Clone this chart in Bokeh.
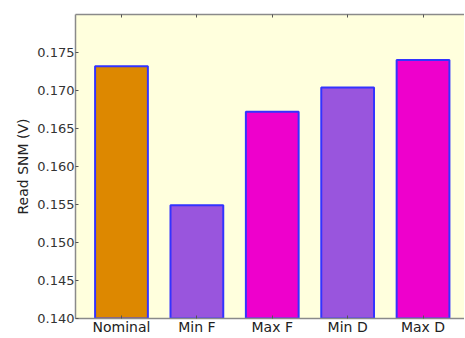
from bokeh.plotting import figure
from bokeh.models import ColumnDataSource, LinearAxis, FixedTicker, Range1d
from bokeh.embed import file_html
from bokeh.resources import INLINE

categories = ["Nominal", "Min F", "Max F", "Min D", "Max D"]
snm_values = [0.1732, 0.1549, 0.1672, 0.1704, 0.1740]
bar_colors = ["#DD8800", "#9955DD", "#EE00CC", "#9955DD", "#EE00CC"]
y_ticks = [0.140, 0.145, 0.150, 0.155, 0.160, 0.165, 0.170, 0.175]

xs = list(range(len(categories)))
src = ColumnDataSource(dict(x=xs, top=snm_values, color=bar_colors))

p = figure(width=464, height=337, output_backend="svg", toolbar_location=None,
           x_range=Range1d(-0.61, 4.55), y_range=Range1d(0.140, 0.180),
           min_border_left=75, min_border_right=0, min_border_top=14, min_border_bottom=14)

p.background_fill_color = "#FFFFDD"
p.border_fill_color = "white"
p.outline_line_color = None
p.grid.visible = False

p.vbar(x="x", top="top", bottom=0.140, width=0.70, source=src,
       fill_color="color", line_color="#3333FF", line_width=2)

AX = "#8a8a8a"
xa = p.xaxis[0]
xa.ticker = FixedTicker(ticks=xs)
xa.major_label_overrides = {i: c for i, c in enumerate(categories)}
xa.major_label_text_font = "DejaVu Sans"
xa.major_label_text_font_size = "14px"
xa.major_label_text_color = "#222222"
xa.major_label_standoff = 0
xa.major_tick_in = 3
xa.major_tick_out = 0
xa.minor_tick_line_color = None
xa.axis_line_color = AX
xa.axis_line_width = 1.5
xa.major_tick_line_color = "#555555"

ya = p.yaxis[0]
ya.ticker = FixedTicker(ticks=y_ticks)
ya.formatter.use_scientific = False
ya.major_label_overrides = {t: f"{t:.3f}" for t in y_ticks}
ya.major_label_text_font = "DejaVu Sans"
ya.major_label_text_font_size = "13px"
ya.major_label_text_color = "#333333"
ya.major_label_standoff = 1
ya.major_tick_in = 3
ya.major_tick_out = 0
ya.minor_tick_line_color = None
ya.axis_line_color = AX
ya.axis_line_width = 1.5
ya.major_tick_line_color = "#555555"
ya.axis_label = "Read SNM (V)"
ya.axis_label_text_font = "DejaVu Sans"
ya.axis_label_text_font_size = "14px"
ya.axis_label_text_font_style = "normal"
ya.axis_label_text_color = "#222222"
ya.axis_label_standoff = 3

top = LinearAxis(ticker=FixedTicker(ticks=xs), major_label_text_font_size="0px",
                 major_label_text_color=None, major_tick_in=3, major_tick_out=0,
                 minor_tick_line_color=None, axis_line_color=AX, axis_line_width=1.5,
                 major_tick_line_color="#555555", major_label_standoff=0)
p.add_layout(top, "above")

open("out.html", "w").write(file_html(p, INLINE))
